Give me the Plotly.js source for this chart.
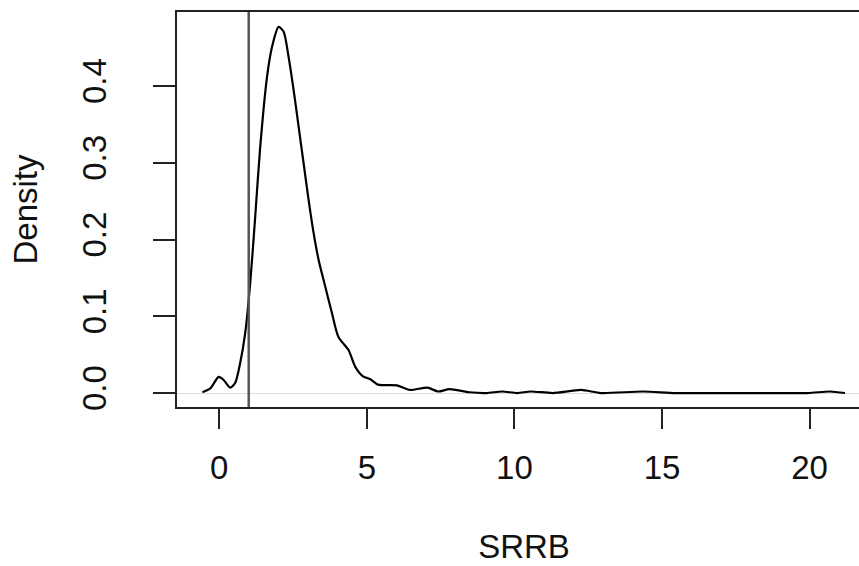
<!DOCTYPE html>
<html>
<head>
<meta charset="utf-8">
<script src="https://cdn.plot.ly/plotly-3.0.1.min.js"></script>
<style>
html, body { margin: 0; padding: 0; overflow: hidden; background: #fff; }
#chart { width: 873px; height: 566px; }
</style>
</head>
<body>
<div id="chart"></div>
<script>
// Density estimate of SRRB
const srrbX = [-0.57, -0.30, -0.02, 0.15, 0.37, 0.54, 0.71, 0.88, 1.05, 1.22, 1.39, 1.62, 1.79, 2.01, 2.18, 2.35, 2.52, 2.69, 2.86, 3.03, 3.20, 3.37, 3.59, 3.82, 4.04, 4.38, 4.61, 4.86, 5.12, 5.38, 6.02, 6.46, 7.05, 7.42, 7.80, 8.47, 9.06, 9.58, 10.1, 10.55, 11.3, 12.26, 12.93, 14.35, 15.47, 17.7, 19.93, 20.68, 21.2];
const densityY = [0.001, 0.006, 0.021, 0.017, 0.007, 0.013, 0.039, 0.078, 0.143, 0.230, 0.321, 0.412, 0.451, 0.477, 0.471, 0.438, 0.395, 0.347, 0.299, 0.251, 0.208, 0.173, 0.139, 0.104, 0.073, 0.056, 0.034, 0.022, 0.018, 0.011, 0.010, 0.004, 0.007, 0.002, 0.005, 0.001, 0.000, 0.002, 0.000, 0.002, 0.000, 0.004, 0.000, 0.002, 0.000, 0.000, 0.000, 0.002, 0.000];
const refLineX = 1;
const xTickVals = [0, 5, 10, 15, 20];
const xTickText = ["0", "5", "10", "15", "20"];
const yTickVals = [0.0, 0.1, 0.2, 0.3, 0.4];
const yTickText = ["0.0", "0.1", "0.2", "0.3", "0.4"];
const xTitle = "SRRB";
const yTitle = "Density";

const fontFam = '"Liberation Sans", Arial, Helvetica, sans-serif';

const traces = [{
  type: 'scatter',
  mode: 'lines',
  x: srrbX,
  y: densityY,
  line: { color: '#000', width: 2.2, shape: 'spline', smoothing: 0.7 },
  hoverinfo: 'skip'
}];

const layout = {
  width: 873,
  height: 566,
  margin: { l: 177, r: 2, t: 12, b: 159 },
  paper_bgcolor: '#fff',
  plot_bgcolor: '#fff',
  showlegend: false,
  font: { family: fontFam, size: 33, color: '#111' },
  xaxis: {
    range: [-1.43, 22.08],
    tickmode: 'array',
    tickvals: xTickVals,
    ticktext: xTickText,
    ticks: 'outside',
    ticklen: 20,
    tickwidth: 2,
    tickcolor: '#222',
    ticklabelstandoff: 10,
    showline: true,
    linecolor: '#222',
    linewidth: 2,
    mirror: true,
    showgrid: false,
    zeroline: false,
    title: { text: xTitle, font: { family: fontFam, size: 33, color: '#111' }, standoff: 50 }
  },
  yaxis: {
    range: [-0.0182, 0.4964],
    tickmode: 'array',
    tickvals: yTickVals,
    ticktext: yTickText,
    tickangle: -90,
    ticks: 'outside',
    ticklen: 22,
    tickwidth: 2,
    tickcolor: '#222',
    ticklabelstandoff: 34,
    showline: true,
    linecolor: '#222',
    linewidth: 2,
    mirror: true,
    showgrid: false,
    zeroline: true,
    zerolinecolor: '#dddddd',
    zerolinewidth: 1,
    title: { text: yTitle, font: { family: fontFam, size: 33, color: '#111' }, standoff: 28 }
  },
  shapes: [{
    type: 'line',
    xref: 'x', yref: 'paper',
    x0: refLineX, x1: refLineX, y0: 0, y1: 1,
    line: { color: '#555', width: 2.5 }
  }]
};

Plotly.newPlot('chart', traces, layout, { staticPlot: true, displayModeBar: false });
</script>
</body>
</html>
